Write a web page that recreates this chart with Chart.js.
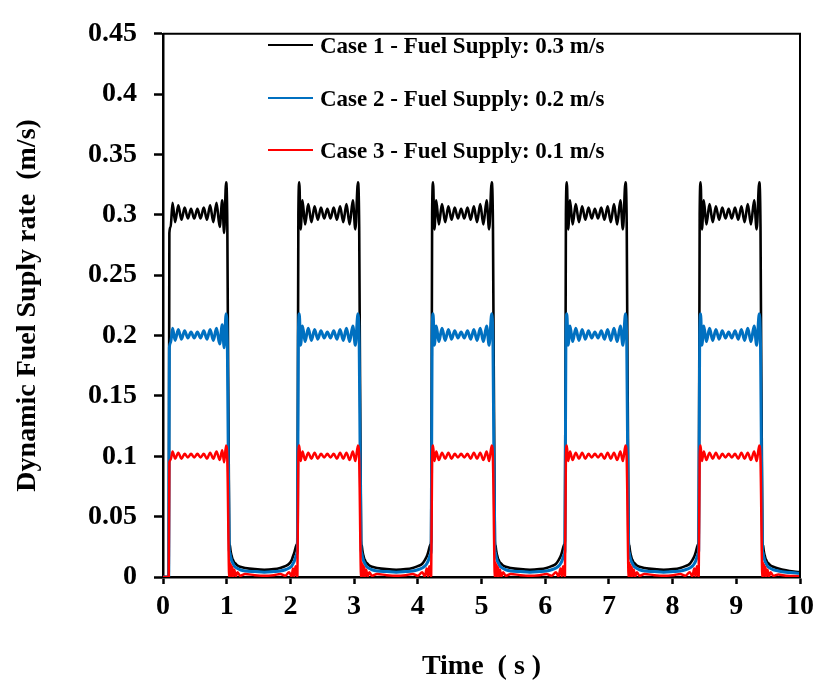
<!DOCTYPE html>
<html>
<head>
<meta charset="utf-8">
<script src="https://cdn.jsdelivr.net/npm/chart.js@4.4.1/dist/chart.umd.min.js"></script>
<style>
  html, body { margin: 0; padding: 0; background: #fff; }
  #wrap { width: 820px; height: 689px; }
</style>
</head>
<body>
<div id="wrap"><canvas id="fuelChart"></canvas></div>
<script>
// waktu (s) - satu sumbu untuk ketiga kasus
const time = [
  0, 0.09, 0.10, 0.12, 0.15, 0.19, 0.24, 0.29, 0.34, 0.39, 0.44, 0.49, 0.54, 0.59, 0.64, 0.69, 0.74, 0.79, 0.84, 0.89, 0.93, 0.96, 0.99, 1.01, 1.04,
  1.05, 1.06, 1.07, 1.08, 1.09, 1.10, 1.12, 1.14, 1.17, 1.21, 1.29, 1.44, 1.59, 1.74, 1.84, 1.92, 1.98, 2.02, 2.04, 2.06, 2.08, 2.10,
  2.11, 2.125, 2.14, 2.16, 2.19, 2.23, 2.28, 2.33, 2.38, 2.43, 2.48, 2.53, 2.58, 2.63, 2.68, 2.73, 2.78, 2.83, 2.88, 2.93, 2.98, 3.02, 3.06, 3.08, 3.11,
  3.12, 3.13, 3.14, 3.15, 3.16, 3.17, 3.19, 3.21, 3.24, 3.28, 3.36, 3.51, 3.66, 3.81, 3.92, 4.00, 4.07, 4.11, 4.14, 4.16, 4.18, 4.20,
  4.21, 4.225, 4.24, 4.26, 4.29, 4.33, 4.38, 4.43, 4.48, 4.53, 4.58, 4.63, 4.68, 4.73, 4.78, 4.83, 4.88, 4.93, 4.98, 5.03, 5.08, 5.12, 5.16, 5.18, 5.21,
  5.22, 5.23, 5.24, 5.25, 5.26, 5.27, 5.29, 5.31, 5.34, 5.38, 5.46, 5.61, 5.76, 5.91, 6.02, 6.10, 6.17, 6.21, 6.24, 6.26, 6.28, 6.30,
  6.31, 6.325, 6.34, 6.36, 6.39, 6.43, 6.48, 6.53, 6.58, 6.63, 6.68, 6.73, 6.78, 6.83, 6.88, 6.93, 6.98, 7.03, 7.08, 7.13, 7.18, 7.22, 7.26, 7.28, 7.31,
  7.32, 7.33, 7.34, 7.35, 7.36, 7.37, 7.39, 7.41, 7.44, 7.48, 7.56, 7.71, 7.86, 8.01, 8.12, 8.20, 8.27, 8.31, 8.34, 8.36, 8.38, 8.40,
  8.41, 8.425, 8.44, 8.46, 8.49, 8.53, 8.58, 8.63, 8.68, 8.73, 8.78, 8.83, 8.88, 8.93, 8.98, 9.03, 9.08, 9.13, 9.18, 9.23, 9.28, 9.32, 9.36, 9.38, 9.41,
  9.42, 9.43, 9.44, 9.45, 9.46, 9.47, 9.49, 9.51, 9.54, 9.58, 9.66, 9.78, 9.90, 10
];

// Case 1 - 0.3 m/s (hitam)
const case1 = [
  0, 0, 0.285, 0.29, 0.31, 0.294, 0.308, 0.296, 0.306, 0.297, 0.305, 0.297, 0.305, 0.297, 0.306, 0.296, 0.308, 0.294, 0.31, 0.29, 0.312, 0.285, 0.327, 0.29, 0.03,
  0.026, 0.022, 0.019, 0.017, 0.015, 0.014, 0.012, 0.011, 0.0095, 0.0085, 0.0075, 0.0065, 0.006, 0.0065, 0.0075, 0.009, 0.011, 0.014, 0.017, 0.02, 0.024, 0.027,
  0.03, 0.30, 0.327, 0.288, 0.312, 0.292, 0.309, 0.294, 0.307, 0.296, 0.306, 0.297, 0.305, 0.297, 0.306, 0.296, 0.307, 0.294, 0.309, 0.292, 0.312, 0.288, 0.327, 0.29, 0.03,
  0.026, 0.022, 0.019, 0.017, 0.015, 0.014, 0.012, 0.011, 0.0095, 0.0085, 0.0075, 0.0065, 0.006, 0.0065, 0.0075, 0.009, 0.011, 0.014, 0.017, 0.02, 0.024, 0.027,
  0.03, 0.30, 0.327, 0.288, 0.312, 0.292, 0.309, 0.294, 0.307, 0.296, 0.306, 0.297, 0.305, 0.297, 0.306, 0.296, 0.307, 0.294, 0.309, 0.292, 0.312, 0.288, 0.327, 0.29, 0.03,
  0.026, 0.022, 0.019, 0.017, 0.015, 0.014, 0.012, 0.011, 0.0095, 0.0085, 0.0075, 0.0065, 0.006, 0.0065, 0.0075, 0.009, 0.011, 0.014, 0.017, 0.02, 0.024, 0.027,
  0.03, 0.30, 0.327, 0.288, 0.312, 0.292, 0.309, 0.294, 0.307, 0.296, 0.306, 0.297, 0.305, 0.297, 0.306, 0.296, 0.307, 0.294, 0.309, 0.292, 0.312, 0.288, 0.327, 0.29, 0.03,
  0.026, 0.022, 0.019, 0.017, 0.015, 0.014, 0.012, 0.011, 0.0095, 0.0085, 0.0075, 0.0065, 0.006, 0.0065, 0.0075, 0.009, 0.011, 0.014, 0.017, 0.02, 0.024, 0.027,
  0.03, 0.30, 0.327, 0.288, 0.312, 0.292, 0.309, 0.294, 0.307, 0.296, 0.306, 0.297, 0.305, 0.297, 0.306, 0.296, 0.307, 0.294, 0.309, 0.292, 0.312, 0.288, 0.327, 0.29, 0.03,
  0.026, 0.022, 0.019, 0.017, 0.015, 0.014, 0.012, 0.011, 0.0095, 0.0085, 0.007, 0.0055, 0.0045, 0.004
];

// Case 2 - 0.2 m/s (biru)
const case2 = [
  0, 0, 0.19, 0.194, 0.206, 0.196, 0.205, 0.197, 0.204, 0.198, 0.203, 0.198, 0.203, 0.198, 0.204, 0.197, 0.205, 0.196, 0.206, 0.193, 0.209, 0.19, 0.218, 0.193, 0.022,
  0.02, 0.017, 0.015, 0.013, 0.012, 0.011, 0.009, 0.008, 0.007, 0.006, 0.005, 0.0045, 0.004, 0.0045, 0.005, 0.006, 0.0075, 0.009, 0.011, 0.013, 0.016, 0.019,
  0.022, 0.20, 0.218, 0.192, 0.208, 0.195, 0.206, 0.196, 0.205, 0.197, 0.204, 0.198, 0.203, 0.198, 0.204, 0.197, 0.205, 0.196, 0.206, 0.195, 0.208, 0.192, 0.218, 0.193, 0.022,
  0.02, 0.017, 0.015, 0.013, 0.012, 0.011, 0.009, 0.008, 0.007, 0.006, 0.005, 0.0045, 0.004, 0.0045, 0.005, 0.006, 0.0075, 0.009, 0.011, 0.013, 0.016, 0.019,
  0.022, 0.20, 0.218, 0.192, 0.208, 0.195, 0.206, 0.196, 0.205, 0.197, 0.204, 0.198, 0.203, 0.198, 0.204, 0.197, 0.205, 0.196, 0.206, 0.195, 0.208, 0.192, 0.218, 0.193, 0.022,
  0.02, 0.017, 0.015, 0.013, 0.012, 0.011, 0.009, 0.008, 0.007, 0.006, 0.005, 0.0045, 0.004, 0.0045, 0.005, 0.006, 0.0075, 0.009, 0.011, 0.013, 0.016, 0.019,
  0.022, 0.20, 0.218, 0.192, 0.208, 0.195, 0.206, 0.196, 0.205, 0.197, 0.204, 0.198, 0.203, 0.198, 0.204, 0.197, 0.205, 0.196, 0.206, 0.195, 0.208, 0.192, 0.218, 0.193, 0.022,
  0.02, 0.017, 0.015, 0.013, 0.012, 0.011, 0.009, 0.008, 0.007, 0.006, 0.005, 0.0045, 0.004, 0.0045, 0.005, 0.006, 0.0075, 0.009, 0.011, 0.013, 0.016, 0.019,
  0.022, 0.20, 0.218, 0.192, 0.208, 0.195, 0.206, 0.196, 0.205, 0.197, 0.204, 0.198, 0.203, 0.198, 0.204, 0.197, 0.205, 0.196, 0.206, 0.195, 0.208, 0.192, 0.218, 0.193, 0.022,
  0.02, 0.017, 0.015, 0.013, 0.012, 0.011, 0.009, 0.008, 0.007, 0.006, 0.005, 0.004, 0.0035, 0.003
];

// Case 3 - 0.1 m/s (merah)
const case3 = [
  0, 0, 0.095, 0.097, 0.104, 0.098, 0.103, 0.098, 0.102, 0.099, 0.102, 0.099, 0.102, 0.099, 0.102, 0.098, 0.103, 0.098, 0.104, 0.097, 0.105, 0.095, 0.109, 0.097, 0,
  0.012, 0.001, 0.010, 0.001, 0.008, 0.0005, 0.006, 0.0005, 0.004, 0.001, 0.0025, 0.0015, 0.001, 0.0015, 0.0025, 0.001, 0.004, 0.0005, 0.007, 0.0005, 0.009, 0.001,
  0.001, 0.10, 0.109, 0.096, 0.104, 0.097, 0.103, 0.098, 0.103, 0.098, 0.102, 0.099, 0.102, 0.099, 0.102, 0.098, 0.103, 0.098, 0.103, 0.097, 0.104, 0.096, 0.109, 0.097, 0,
  0.012, 0.001, 0.010, 0.001, 0.008, 0.0005, 0.006, 0.0005, 0.004, 0.001, 0.0025, 0.0015, 0.001, 0.0015, 0.0025, 0.001, 0.004, 0.0005, 0.007, 0.0005, 0.009, 0.001,
  0.001, 0.10, 0.109, 0.096, 0.104, 0.097, 0.103, 0.098, 0.103, 0.098, 0.102, 0.099, 0.102, 0.099, 0.102, 0.098, 0.103, 0.098, 0.103, 0.097, 0.104, 0.096, 0.109, 0.097, 0,
  0.012, 0.001, 0.010, 0.001, 0.008, 0.0005, 0.006, 0.0005, 0.004, 0.001, 0.0025, 0.0015, 0.001, 0.0015, 0.0025, 0.001, 0.004, 0.0005, 0.007, 0.0005, 0.009, 0.001,
  0.001, 0.10, 0.109, 0.096, 0.104, 0.097, 0.103, 0.098, 0.103, 0.098, 0.102, 0.099, 0.102, 0.099, 0.102, 0.098, 0.103, 0.098, 0.103, 0.097, 0.104, 0.096, 0.109, 0.097, 0,
  0.012, 0.001, 0.010, 0.001, 0.008, 0.0005, 0.006, 0.0005, 0.004, 0.001, 0.0025, 0.0015, 0.001, 0.0015, 0.0025, 0.001, 0.004, 0.0005, 0.007, 0.0005, 0.009, 0.001,
  0.001, 0.10, 0.109, 0.096, 0.104, 0.097, 0.103, 0.098, 0.103, 0.098, 0.102, 0.099, 0.102, 0.099, 0.102, 0.098, 0.103, 0.098, 0.103, 0.097, 0.104, 0.096, 0.109, 0.097, 0,
  0.012, 0.001, 0.010, 0.001, 0.008, 0.0005, 0.006, 0.0005, 0.004, 0.001, 0.002, 0.001, 0.0008, 0.0005
];

const xTickLabels = ['0', '1', '2', '3', '4', '5', '6', '7', '8', '9', '10'];
const yTickLabels = ['0', '0.05', '0.1', '0.15', '0.2', '0.25', '0.3', '0.35', '0.4', '0.45'];
const caseLabels = [
  'Case 1 - Fuel Supply: 0.3 m/s',
  'Case 2 - Fuel Supply: 0.2 m/s',
  'Case 3 - Fuel Supply: 0.1 m/s'
];
const caseColors = ['#000000', '#0070C0', '#FF0000'];

if (case1.length !== time.length || case2.length !== time.length || case3.length !== time.length) {
  console.error('Panjang data tidak sama', time.length, case1.length, case2.length, case3.length);
}

const FONT = "'Liberation Serif', 'Times New Roman', serif";
const toPoints = (vals) => time.map((t, i) => ({ x: t, y: vals[i] }));

// bingkai atas & kanan
const frameBox = {
  id: 'frameBox',
  afterDraw(chart) {
    const { ctx, chartArea: a } = chart;
    ctx.save();
    ctx.strokeStyle = '#000';
    ctx.lineWidth = 2;
    ctx.beginPath();
    ctx.moveTo(a.left, a.top);
    ctx.lineTo(a.right, a.top);
    ctx.lineTo(a.right, a.bottom);
    ctx.stroke();
    ctx.restore();
  }
};

// legenda di dalam area plot
const insideLegend = {
  id: 'insideLegend',
  afterDraw(chart) {
    const { ctx } = chart;
    const rows = [53, 106, 158];
    ctx.save();
    ctx.font = `bold 23px ${FONT}`;
    ctx.textBaseline = 'alphabetic';
    ctx.textAlign = 'left';
    caseLabels.forEach((label, i) => {
      const y = rows[i];
      ctx.strokeStyle = caseColors[i];
      ctx.lineWidth = 2;
      ctx.beginPath();
      ctx.moveTo(268, y - 8);
      ctx.lineTo(313, y - 8);
      ctx.stroke();
      ctx.fillStyle = '#000';
      ctx.fillText(label, 320, y);
    });
    ctx.restore();
  }
};

new Chart(document.getElementById('fuelChart'), {
  type: 'line',
  data: {
    datasets: [
      // urutan terbalik supaya merah digambar paling atas
      { label: caseLabels[2], data: toPoints(case3), borderColor: caseColors[2], borderWidth: 2.5 },
      { label: caseLabels[1], data: toPoints(case2), borderColor: caseColors[1], borderWidth: 3 },
      { label: caseLabels[0], data: toPoints(case1), borderColor: caseColors[0], borderWidth: 2.6 }
    ]
  },
  options: {
    responsive: true,
    maintainAspectRatio: false,
    animation: false,
    elements: {
      point: { radius: 0 },
      line: { cubicInterpolationMode: 'monotone', fill: false, borderJoinStyle: 'round' }
    },
    layout: { padding: { top: 18, right: 20, left: 0, bottom: 0 } },
    plugins: { legend: { display: false }, tooltip: { enabled: false } },
    scales: {
      x: {
        type: 'linear',
        min: 0,
        max: 10,
        afterFit: (s) => { s.height = 112; },
        ticks: {
          stepSize: 1,
          autoSkip: false,
          maxRotation: 0,
          color: '#000',
          padding: 6,
          font: { family: FONT, size: 28, weight: 'bold' },
          callback: (v, i) => xTickLabels[i]
        },
        grid: { drawOnChartArea: false, drawTicks: true, tickLength: 7, tickWidth: 2.5, tickColor: '#000' },
        border: { color: '#000', width: 2.5 },
        title: {
          display: true,
          text: 'Time  ( s )',
          color: '#000',
          font: { family: FONT, size: 28, weight: 'bold' },
          padding: { top: 0, bottom: 5 }
        }
      },
      y: {
        min: 0,
        max: 0.45,
        afterFit: (s) => { s.width = 163; },
        ticks: {
          stepSize: 0.05,
          color: '#000',
          padding: 17,
          font: { family: FONT, size: 28, weight: 'bold' },
          callback: (v, i) => yTickLabels[i]
        },
        grid: { drawOnChartArea: false, drawTicks: true, tickLength: 9, tickWidth: 2.5, tickColor: '#000' },
        border: { color: '#000', width: 2.5 },
        title: {
          display: true,
          text: 'Dynamic Fuel Suply rate  (m/s)',
          color: '#000',
          font: { family: FONT, size: 28, weight: 'bold' },
          padding: { top: 11, bottom: 0 }
        }
      }
    }
  },
  plugins: [frameBox, insideLegend]
});
</script>
</body>
</html>
